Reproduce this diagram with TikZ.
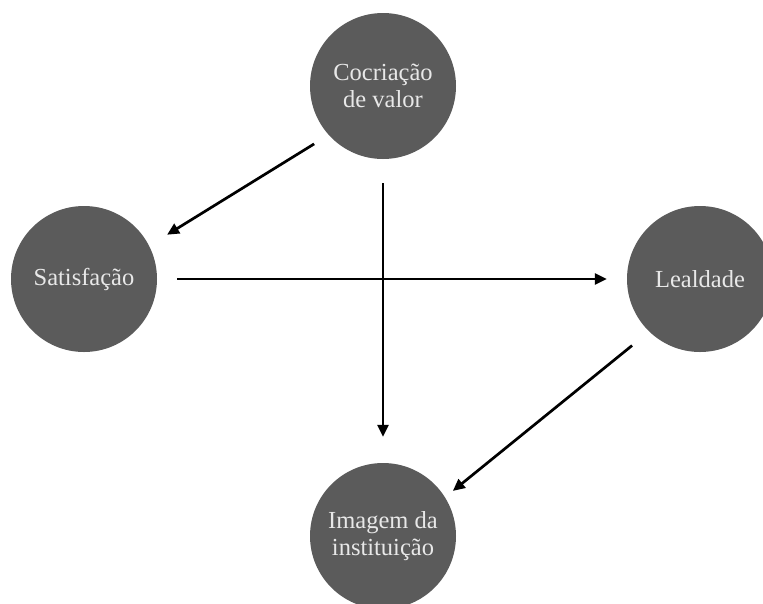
\documentclass[tikz,border=0pt]{standalone}
\usepackage{fontspec}
\setmainfont{Liberation Serif}
\usetikzlibrary{arrows.meta}
\definecolor{discfill}{RGB}{91,91,91}
\definecolor{disctext}{RGB}{232,232,232}
\begin{document}
\begin{tikzpicture}[x=1pt,y=-1pt,
  disc/.style={circle,fill=discfill,draw=none,minimum size=146pt,inner sep=0pt,
    text=disctext,align=center,font=\fontsize{24.5}{27.5}\selectfont},
  link/.style={line width=2.7pt,-{Triangle[length=12pt,width=11pt]}}]
\useasboundingbox (0,0) rectangle (763,603);
\clip (0,0) rectangle (763,603);
\fill[white] (0,0) rectangle (763,603);
\node[disc] (top) at (383,86) {Cocriação\\de valor};
\node[disc] (sat) at (84,279) {Satisfação};
\node[disc] (leal) at (700,279) {Lealdade};
\node[disc] (img) at (383,536) {Imagem da\\instituição};
\draw[link,shorten <=17pt,shorten >=21pt] (top.222) -- (sat.27);
\draw[link,shorten <=24pt,shorten >=26pt] (top) -- (img);
\draw[link,shorten <=20pt,shorten >=20pt] (sat) -- (leal);
\draw[link,shorten <=22pt,shorten >=10pt] (leal.226) -- (img.32);
\end{tikzpicture}
\end{document}
